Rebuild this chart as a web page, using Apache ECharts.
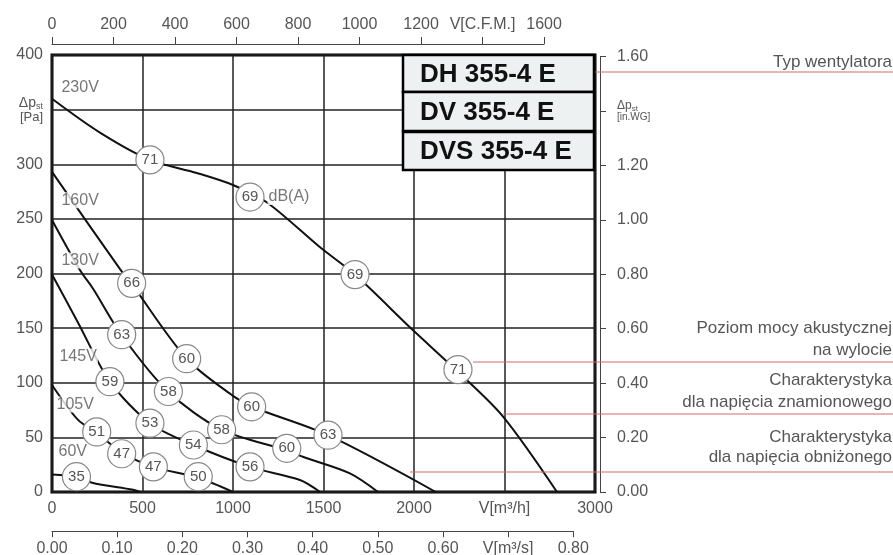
<!DOCTYPE html>
<html><head><meta charset="utf-8">
<script src="https://cdn.jsdelivr.net/npm/echarts@6/dist/echarts.min.js"></script>
<style>html,body{margin:0;padding:0;background:#fff}#c{width:893px;height:555px}</style>
</head><body><div id="c"></div>
<script>
// ---- data (flow m3/h, static pressure Pa) ----
const curve230V = [[0,360],[265,329],[541,304],[800,292],[1000,281],[1188,265],[1481,224],[1674,199],[1995,148],[2243,110],[2492,69],[2790,0]];
const curve160V = [[0,293],[376,204],[442,190],[744,122],[1000,88],[1105,78],[1525,52],[2120,0]];
const curve130V = [[0,249],[155,203],[227,186],[387,143],[641,92],[937,57],[1298,38],[1389,32],[1646,17],[1801,0]];
const curve145V = [[0,199],[144,155],[320,101],[541,63],[781,43],[1094,23],[1370,11],[1481,0]];
const curve105V = [[0,98],[144,66],[249,54],[387,36],[558,23],[807,13],[1000,0]];
const curve60V  = [[0,16],[135,14],[221,8.5],[448,2],[486,0]];

const noise230V = [[541,304,'71'],[1094,270,'69'],[1674,199,'69'],[2243,112,'71']];
const noise160V = [[440,191,'66'],[744,122,'60'],[1103,78,'60'],[1525,52,'63']];
const noise130V = [[385,144,'63'],[643,92,'58'],[937,57,'58'],[1297,40,'60']];
const noise145V = [[320,101,'59'],[541,63,'53'],[781,43,'54'],[1094,23,'56']];
const noise105V = [[247,55,'51'],[385,35,'47'],[560,23,'47'],[808,14,'50']];
const noise60V  = [[135,14,'35']];

const curveLabels = [[44,370,'230V'],[44,267,'160V'],[44,212,'130V'],[33,124,'145V'],[17,80,'105V'],[28,37,'60V'],[1188,270,'dB(A)']];

const flowMax = 3000, flowStep = 500;      // m3/h
const paMax = 400, paStep = 50;            // Pa
const cfmMax = 1600, cfmStep = 200;        // CFM
const m3sMax = 0.8, m3sStep = 0.1;         // m3/s
const inwgMax = 1.6, inwgStep = 0.2;       // in.WG

const modelNames = ['DH 355-4 E','DV 355-4 E','DVS 355-4 E'];
const noteTexts = [['Typ wentylatora'],['Poziom mocy akustycznej','na wylocie'],['Charakterystyka','dla napięcia znamionowego'],['Charakterystyka','dla napięcia obniżonego']];

// ---- layout ----
const G = {left:52, top:55, width:543, height:437};
const CFM_TO_M3H = 1.69901, M3S_TO_M3H = 3600, INWG_TO_PA = 249.0889;
const pxPerFlow = G.width / flowMax, pxPerPa = G.height / paMax;

const FONT = "'Liberation Sans', Arial, sans-serif";
const TXT = '#555';
const near = (a,b)=>Math.abs(a-b)<1e-6;

const chart = echarts.init(document.getElementById('c'), null, {renderer:'canvas'});

const lineSeries = [curve230V,curve160V,curve130V,curve145V,curve105V,curve60V].map(d=>({
  type:'line', data:d, xAxisIndex:0, yAxisIndex:0, smooth:0.3,
  symbol:'none', lineStyle:{color:'#111', width:2}, z:2, silent:true
}));
const circleSeries = {
  type:'scatter', xAxisIndex:0, yAxisIndex:0, z:4, silent:true,
  data:[].concat(noise230V,noise160V,noise130V,noise145V,noise105V,noise60V),
  symbolSize:28,
  itemStyle:{color:'#fff', borderColor:'#888', borderWidth:1.2, opacity:1},
  label:{show:true, position:'inside', formatter:p=>p.data[2], color:TXT, fontSize:15, fontFamily:FONT}
};
const labelSeries = {
  type:'scatter', xAxisIndex:0, yAxisIndex:0, z:5, silent:true,
  data:curveLabels, symbolSize:1, itemStyle:{color:'rgba(0,0,0,0)'},
  label:{show:true, position:'right', distance:0, formatter:p=>p.data[2], color:TXT, fontSize:16, fontFamily:FONT,
         backgroundColor:'#fff', padding:[0,1,0,1]}
};

const cfmWidth = cfmMax*CFM_TO_M3H*pxPerFlow;
const m3sWidth = m3sMax*M3S_TO_M3H*pxPerFlow;
const inwgHeight = inwgMax*INWG_TO_PA*pxPerPa;
const bottomY = G.top + G.height;

const lbl = {color:TXT, fontSize:16, fontFamily:FONT};
const secLine = {show:true, lineStyle:{color:'#444', width:1}};

const graphics = [];
// model boxes
const boxes = [[55,37],[92,39],[132,38]];
boxes.forEach((b,i)=>{
  graphics.push({type:'rect', z:100, shape:{x:403,y:b[0],width:191,height:b[1]},
    style:{fill:'#eef1f1', stroke:'#000', lineWidth:2.5}});
  graphics.push({type:'text', z:101, x:420, y:b[0]+b[1]/2+1,
    style:{text:modelNames[i], font:"bold 26px 'Liberation Sans', Arial, sans-serif", fill:'#111', verticalAlign:'middle', align:'left'}});
});
// red reference lines
const redLines = [[587,72],[473,362],[503,414],[410,472]];
redLines.forEach(r=>graphics.push({type:'line', z:90, shape:{x1:r[0],y1:r[1],x2:893,y2:r[1]}, style:{stroke:'#d36a6a', lineWidth:1.2}}));
// note texts
const noteY = [[62],[328,350],[380,402],[437,457]];
noteTexts.forEach((t,i)=>t.forEach((s,j)=>graphics.push({type:'text', z:101, x:892, y:noteY[i][j],
  style:{text:s, font:"17px 'Liberation Sans', Arial, sans-serif", fill:'#555', align:'right', verticalAlign:'middle'}})));

chart.setOption({
  animation:false,
  backgroundColor:'#fff',
  grid:[
    {left:G.left, top:G.top, width:G.width, height:G.height, show:true, borderColor:'#000', borderWidth:3, backgroundColor:'transparent'},
    {left:G.left, top:43, width:cfmWidth, height:1},
    {left:G.left, top:531, width:m3sWidth, height:1},
    {left:600, top:bottomY-inwgHeight, width:5, height:inwgHeight}
  ],
  xAxis:[
    {gridIndex:0, type:'value', min:0, max:flowMax, interval:flowStep, position:'bottom',
     axisLine:{show:false}, axisTick:{show:false},
     splitLine:{show:true, lineStyle:{color:'#222', width:1.5}},
     axisLabel:Object.assign({margin:9, showMinLabel:true, showMaxLabel:true, formatter:v=>v===2500?'V[m³/h]':String(v)}, lbl)},
    {gridIndex:1, type:'value', min:0, max:cfmMax, interval:cfmStep, position:'top',
     axisLine:secLine, axisTick:{show:true, length:7, lineStyle:{color:'#444'}}, splitLine:{show:false},
     axisLabel:Object.assign({margin:10, showMinLabel:true, showMaxLabel:true, formatter:v=>v===1400?'V[C.F.M.]':String(v)}, lbl)},
    {gridIndex:2, type:'value', min:0, max:m3sMax, interval:m3sStep, position:'bottom',
     axisLine:secLine, axisTick:{show:true, length:6, lineStyle:{color:'#444'}}, splitLine:{show:false},
     axisLabel:Object.assign({margin:9, showMinLabel:true, showMaxLabel:true, formatter:v=>near(v,0.7)?'V[m³/s]':v.toFixed(2)}, lbl)},
    {gridIndex:3, type:'value', min:0, max:1, show:false}
  ],
  yAxis:[
    {gridIndex:0, type:'value', min:0, max:paMax, interval:paStep,
     axisLine:{show:false}, axisTick:{show:false},
     splitLine:{show:true, lineStyle:{color:'#222', width:1.5}},
     axisLabel:Object.assign({margin:9, showMinLabel:true, showMaxLabel:true,
       formatter:v=>v===350?'{a|Δp}{s|st}\n{b|[Pa]}':String(v),
       rich:{a:{fontSize:14, color:TXT, fontFamily:FONT}, s:{fontSize:9, color:TXT, fontFamily:FONT, verticalAlign:'bottom', padding:[6,0,0,0]}, b:{fontSize:13, color:TXT, fontFamily:FONT}}}, lbl)},
    {gridIndex:1, type:'value', min:0, max:1, show:false},
    {gridIndex:2, type:'value', min:0, max:1, show:false},
    {gridIndex:3, type:'value', min:0, max:inwgMax, interval:inwgStep, position:'right',
     axisLine:secLine, axisTick:{show:true, length:6, lineStyle:{color:'#444'}}, splitLine:{show:false},
     axisLabel:Object.assign({margin:12, showMinLabel:true, showMaxLabel:true,
       formatter:v=>near(v,1.4)?'{a|Δp}{s|st}\n{b|[in.WG]}':v.toFixed(2),
       rich:{a:{fontSize:12, color:TXT, fontFamily:FONT}, s:{fontSize:8, color:TXT, fontFamily:FONT, verticalAlign:'bottom', padding:[5,0,0,0]}, b:{fontSize:10, color:TXT, fontFamily:FONT}}}, lbl)}
  ],
  series:[].concat(lineSeries,[circleSeries,labelSeries]),
  graphic:graphics
});
</script></body></html>
